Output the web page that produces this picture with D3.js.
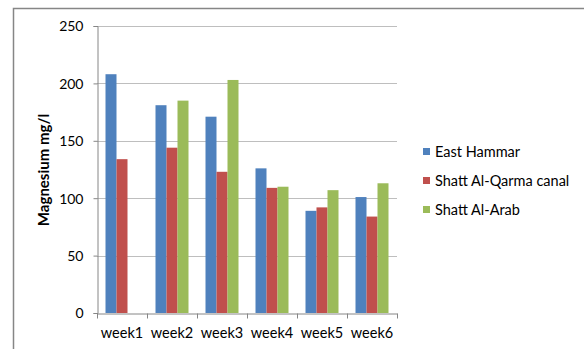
<!DOCTYPE html>
<html>
<head>
<meta charset="utf-8">
<script src="https://cdn.jsdelivr.net/npm/d3@7"></script>
<style>
  html, body { margin: 0; padding: 0; background: #fff; }
  svg { display: block; }
  text { font-family: Lato, "Open Sans", sans-serif; fill: #000; }
</style>
</head>
<body>
<script>
// Magnesium concentration (mg/l) per week at three sampling stations
const weeks = ["week1", "week2", "week3", "week4", "week5", "week6"];
const seriesNames = ["East Hammar", "Shatt Al-Qarma canal", "Shatt Al-Arab"];
const eastHammar = [208, 181, 171, 126, 89, 101];
const shattAlQarma = [134, 144, 123, 109, 92, 84];
const shattAlArab = [null, 185, 203, 110, 107, 113];
const seriesColors = ["#4F81BD", "#C0504D", "#9BBB59"];
const yTicks = [0, 50, 100, 150, 200, 250];

const seriesValues = [eastHammar, shattAlQarma, shattAlArab];

const W = 584, H = 349;
const plot = { left: 97, right: 397, top: 26, bottom: 313 };

const svg = d3.select("body").append("svg")
  .attr("width", W).attr("height", H);

// chart frame (outer border)
svg.append("rect")
  .attr("x", 13.5).attr("y", 8.5)
  .attr("width", 600).attr("height", 400)
  .attr("fill", "none").attr("stroke", "#868686").attr("stroke-width", 1.5);

const x = d3.scaleBand().domain(weeks).range([plot.left, plot.right]).padding(0);
const inner = d3.scaleBand().domain(d3.range(seriesNames.length))
  .range([0, x.bandwidth()]).paddingInner(0).paddingOuter(0.5 * 17 / 11);
const y = d3.scaleLinear().domain([0, 250]).range([plot.bottom, plot.top]);

// horizontal gridlines
svg.append("g").selectAll("line").data(yTicks.filter(d => d > 0)).join("line")
  .attr("x1", plot.left).attr("x2", plot.right)
  .attr("y1", d => Math.round(y(d)) + 0.5).attr("y2", d => Math.round(y(d)) + 0.5)
  .attr("stroke", "#BEBEBE").attr("stroke-width", 1);

// bars
seriesValues.forEach((vals, si) => {
  svg.append("g").selectAll("rect")
    .data(weeks.map((w, i) => ({ w, v: vals[i] })).filter(d => d.v != null))
    .join("rect")
    .attr("x", d => x(d.w) + inner(si))
    .attr("width", inner.bandwidth())
    .attr("y", d => y(d.v))
    .attr("height", d => y(0) - y(d.v))
    .attr("fill", seriesColors[si]);
});

// y axis
const yAxis = svg.append("g")
  .attr("transform", `translate(${plot.left + 0.5},0)`)
  .call(d3.axisLeft(y).tickValues(yTicks).tickSize(4).tickPadding(10));
yAxis.select(".domain").attr("stroke", "#868686");
yAxis.selectAll(".tick line").attr("stroke", "#868686");
yAxis.selectAll(".tick text").style("font-size", "14px").attr("dy", "0.35em");

// x axis
const xAxis = svg.append("g")
  .attr("transform", `translate(0,${Math.round(y(0)) + 0.5})`)
  .call(d3.axisBottom(x).tickSize(0).tickPadding(14));
xAxis.select(".domain").attr("stroke", "#868686");
xAxis.selectAll(".tick text").style("font-size", "14.5px");
// category boundary tick marks
xAxis.append("g").selectAll("line")
  .data(weeks.map(w => x(w)).concat([plot.right]))
  .join("line")
  .attr("x1", d => Math.round(d) + 0.5).attr("x2", d => Math.round(d) + 0.5)
  .attr("y1", 0).attr("y2", 5)
  .attr("stroke", "#868686");

// y axis title
svg.append("text")
  .attr("transform", `translate(49,170) rotate(-90)`)
  .attr("text-anchor", "middle")
  .style("font-size", "15px").style("font-weight", "bold")
  .text("Magnesium mg/l");

// legend
const legend = svg.append("g");
seriesNames.forEach((name, i) => {
  const yy = 152 + i * 29;
  legend.append("rect")
    .attr("x", 423).attr("y", yy - 4).attr("width", 7).attr("height", 7)
    .attr("fill", seriesColors[i]);
  legend.append("text")
    .attr("x", 435).attr("y", yy).attr("dy", "0.35em")
    .style("font-size", "14.5px")
    .text(name);
});
</script>
</body>
</html>
